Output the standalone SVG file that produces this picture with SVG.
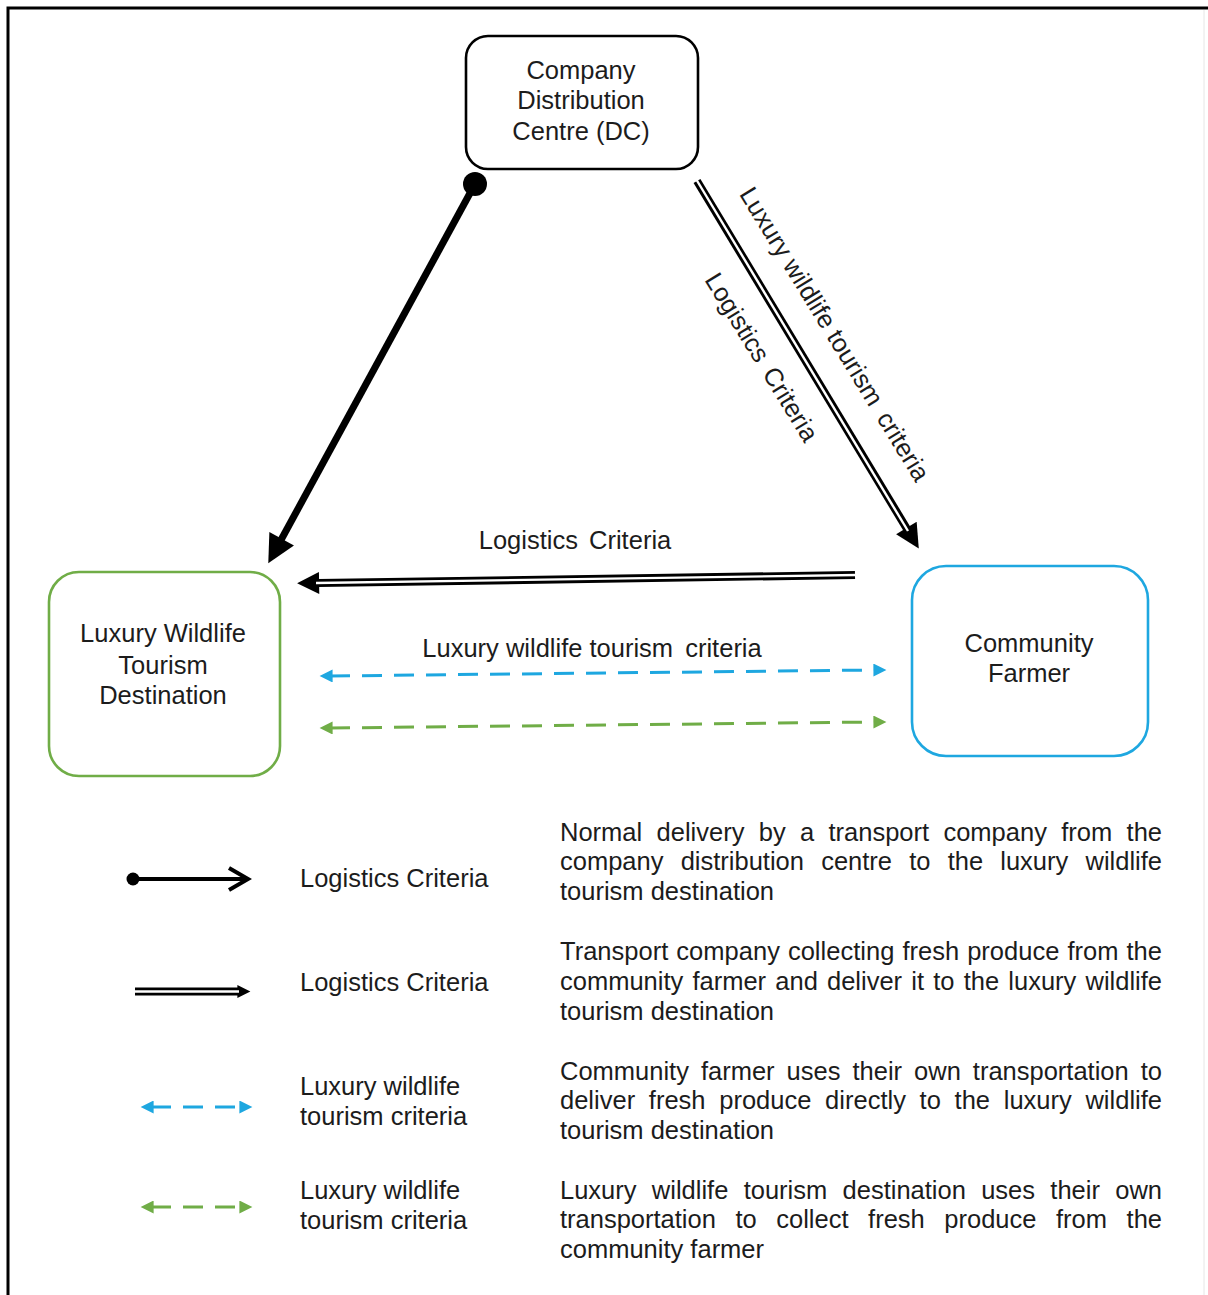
<svg xmlns="http://www.w3.org/2000/svg" width="1208" height="1295" viewBox="0 0 1208 1295">
  <style>
    text { font-family: "Liberation Sans", Arial, sans-serif; font-size: 25.5px; fill: #1c1c1c; }
    .mid { text-anchor: middle; }
    .wide { word-spacing: 4px; }
    .box { fill: #ffffff; stroke-width: 2.6; }
    .dc { stroke: #000000; }
    .dest { stroke: #70ad47; }
    .farm { stroke: #1ea7e0; }
    .thick { stroke: #000000; stroke-width: 7; fill: none; }
    .dblOuter { stroke: #000000; stroke-width: 8; fill: none; }
    .dblInner { stroke: #ffffff; stroke-width: 2.4; fill: none; }
    .blueDash { stroke: #1ea7e0; stroke-width: 3; stroke-dasharray: 20 12; fill: none; }
    .greenDash { stroke: #70ad47; stroke-width: 3; stroke-dasharray: 20 12; fill: none; }
  </style>
  <defs>
    <marker id="headBlack" viewBox="0 0 10 10" refX="0.5" refY="5" markerUnits="userSpaceOnUse" markerWidth="32" markerHeight="28" orient="auto">
      <path d="M0,0 L10,5 L0,10 z" fill="#000000"/>
    </marker>
    <marker id="headDbl" viewBox="0 0 10 10" refX="0.5" refY="5" markerUnits="userSpaceOnUse" markerWidth="28" markerHeight="24" orient="auto">
      <path d="M0,0 L10,5 L0,10 z" fill="#000000"/>
    </marker>
    <marker id="headDblWide" viewBox="0 0 10 10" refX="0.5" refY="5" markerUnits="userSpaceOnUse" markerWidth="27" markerHeight="22" orient="auto">
      <path d="M0,0 L10,5 L0,10 z" fill="#000000"/>
    </marker>
    <marker id="headBlue" viewBox="0 0 10 10" refX="2" refY="5" markerUnits="userSpaceOnUse" markerWidth="15" markerHeight="13" orient="auto-start-reverse">
      <path d="M0,0 L10,5 L0,10 z" fill="#1ea7e0"/>
    </marker>
    <marker id="headGreen" viewBox="0 0 10 10" refX="2" refY="5" markerUnits="userSpaceOnUse" markerWidth="15" markerHeight="13" orient="auto-start-reverse">
      <path d="M0,0 L10,5 L0,10 z" fill="#70ad47"/>
    </marker>
    <marker id="headSmallDbl" viewBox="0 0 10 10" refX="0.5" refY="5" markerUnits="userSpaceOnUse" markerWidth="16" markerHeight="13" orient="auto">
      <path d="M0,0 L10,5 L0,10 z" fill="#000000"/>
    </marker>
  </defs>

  <!-- frame -->
  <rect x="0" y="0" width="1208" height="1295" fill="#ffffff"/>
  <path d="M8,1295 V8 H1208" fill="none" stroke="#000000" stroke-width="3"/>
  <line x1="1204" y1="10" x2="1204" y2="1295" stroke="#e6e6e6" stroke-width="1"/>

  <!-- connectors -->
  <g id="connectors">
    <!-- DC to destination: normal delivery -->
    <line class="thick" x1="475" y1="184" x2="281" y2="540" marker-end="url(#headBlack)"/>
    <circle cx="475" cy="184" r="12" fill="#000000"/>

    <!-- DC to farmer -->
    <line class="dblOuter" x1="697" y1="181" x2="907" y2="529" marker-end="url(#headDbl)"/>
    <line class="dblInner" x1="696" y1="179" x2="908" y2="531"/>
    <text transform="translate(835,334) rotate(58.5)" x="0" y="9" class="mid">Luxury wildlife tourism <tspan dx="5">criteria</tspan></text>
    <text transform="translate(762,357) rotate(58.5)" x="0" y="9" class="mid wide">Logistics Criteria</text>

    <!-- farmer to destination -->
    <line class="dblOuter" x1="855" y1="575" x2="318" y2="583" marker-end="url(#headDblWide)"/>
    <line class="dblInner" x1="857" y1="575" x2="316" y2="583"/>
    <text x="575" y="549" class="mid wide">Logistics Criteria</text>

    <!-- own transport links -->
    <text x="592" y="657" class="mid">Luxury wildlife tourism <tspan dx="5">criteria</tspan></text>
    <line class="blueDash" x1="330" y1="676" x2="876" y2="670" marker-start="url(#headBlue)" marker-end="url(#headBlue)"/>
    <line class="greenDash" x1="330" y1="728" x2="876" y2="722" marker-start="url(#headGreen)" marker-end="url(#headGreen)"/>
  </g>

  <!-- nodes -->
  <g id="node-dc">
    <rect class="box dc" x="466" y="36" width="232" height="133" rx="22"/>
    <text x="581" y="79" class="mid">Company</text>
    <text x="581" y="109" class="mid">Distribution</text>
    <text x="581" y="140" class="mid">Centre (DC)</text>
  </g>
  <g id="node-destination">
    <rect class="box dest" x="49" y="572" width="231" height="204" rx="30"/>
    <text x="163" y="642" class="mid">Luxury Wildlife</text>
    <text x="163" y="674" class="mid">Tourism</text>
    <text x="163" y="704" class="mid">Destination</text>
  </g>
  <g id="node-farmer">
    <rect class="box farm" x="912" y="566" width="236" height="190" rx="34"/>
    <text x="1029" y="652" class="mid">Community</text>
    <text x="1029" y="682" class="mid">Farmer</text>
  </g>

  <!-- legend -->
  <g id="legend">
    <!-- row 1 -->
    <circle cx="133" cy="879" r="6.5" fill="#000000"/>
    <line x1="133" y1="879" x2="246" y2="879" stroke="#000000" stroke-width="4"/>
    <path d="M229,868 L248,879 L229,890" fill="none" stroke="#000000" stroke-width="4" stroke-linejoin="miter"/>
    <text x="300" y="887">Logistics Criteria</text>
    <text x="560" y="841" word-spacing="7.2" textLength="602" lengthAdjust="spacing">Normal delivery by a transport company from the</text>
    <text x="560" y="870" word-spacing="10.1" textLength="602" lengthAdjust="spacing">company distribution centre to the luxury wildlife</text>
    <text x="560" y="900">tourism destination</text>

    <!-- row 2 -->
    <line class="dblOuter" x1="135" y1="991.5" x2="238" y2="991.5" stroke-width="6" marker-end="url(#headSmallDbl)"/>
    <line class="dblInner" x1="135" y1="991.5" x2="239" y2="991.5" stroke-width="2"/>
    <text x="300" y="991">Logistics Criteria</text>
    <text x="560" y="960" word-spacing="0.9" textLength="602" lengthAdjust="spacing">Transport company collecting fresh produce from the</text>
    <text x="560" y="990" word-spacing="2.1" textLength="602" lengthAdjust="spacing">community farmer and deliver it to the luxury wildlife</text>
    <text x="560" y="1020">tourism destination</text>

    <!-- row 3 -->
    <line class="blueDash" x1="151" y1="1107" x2="242" y2="1107" stroke-width="2.6" stroke-dasharray="14 9" marker-start="url(#headBlue)" marker-end="url(#headBlue)"/>
    <text x="300" y="1095">Luxury wildlife</text>
    <text x="300" y="1125">tourism criteria</text>
    <text x="560" y="1080" word-spacing="4.9" textLength="602" lengthAdjust="spacing">Community farmer uses their own transportation to</text>
    <text x="560" y="1109" word-spacing="6.6" textLength="602" lengthAdjust="spacing">deliver fresh produce directly to the luxury wildlife</text>
    <text x="560" y="1139">tourism destination</text>

    <!-- row 4 -->
    <line class="greenDash" x1="151" y1="1207" x2="242" y2="1207" stroke-width="2.6" stroke-dasharray="14 9" marker-start="url(#headGreen)" marker-end="url(#headGreen)"/>
    <text x="300" y="1199">Luxury wildlife</text>
    <text x="300" y="1229">tourism criteria</text>
    <text x="560" y="1199" word-spacing="8.2" textLength="602" lengthAdjust="spacing">Luxury wildlife tourism destination uses their own</text>
    <text x="560" y="1228" word-spacing="12.5" textLength="602" lengthAdjust="spacing">transportation to collect fresh produce from the</text>
    <text x="560" y="1258">community farmer</text>
  </g>
</svg>
